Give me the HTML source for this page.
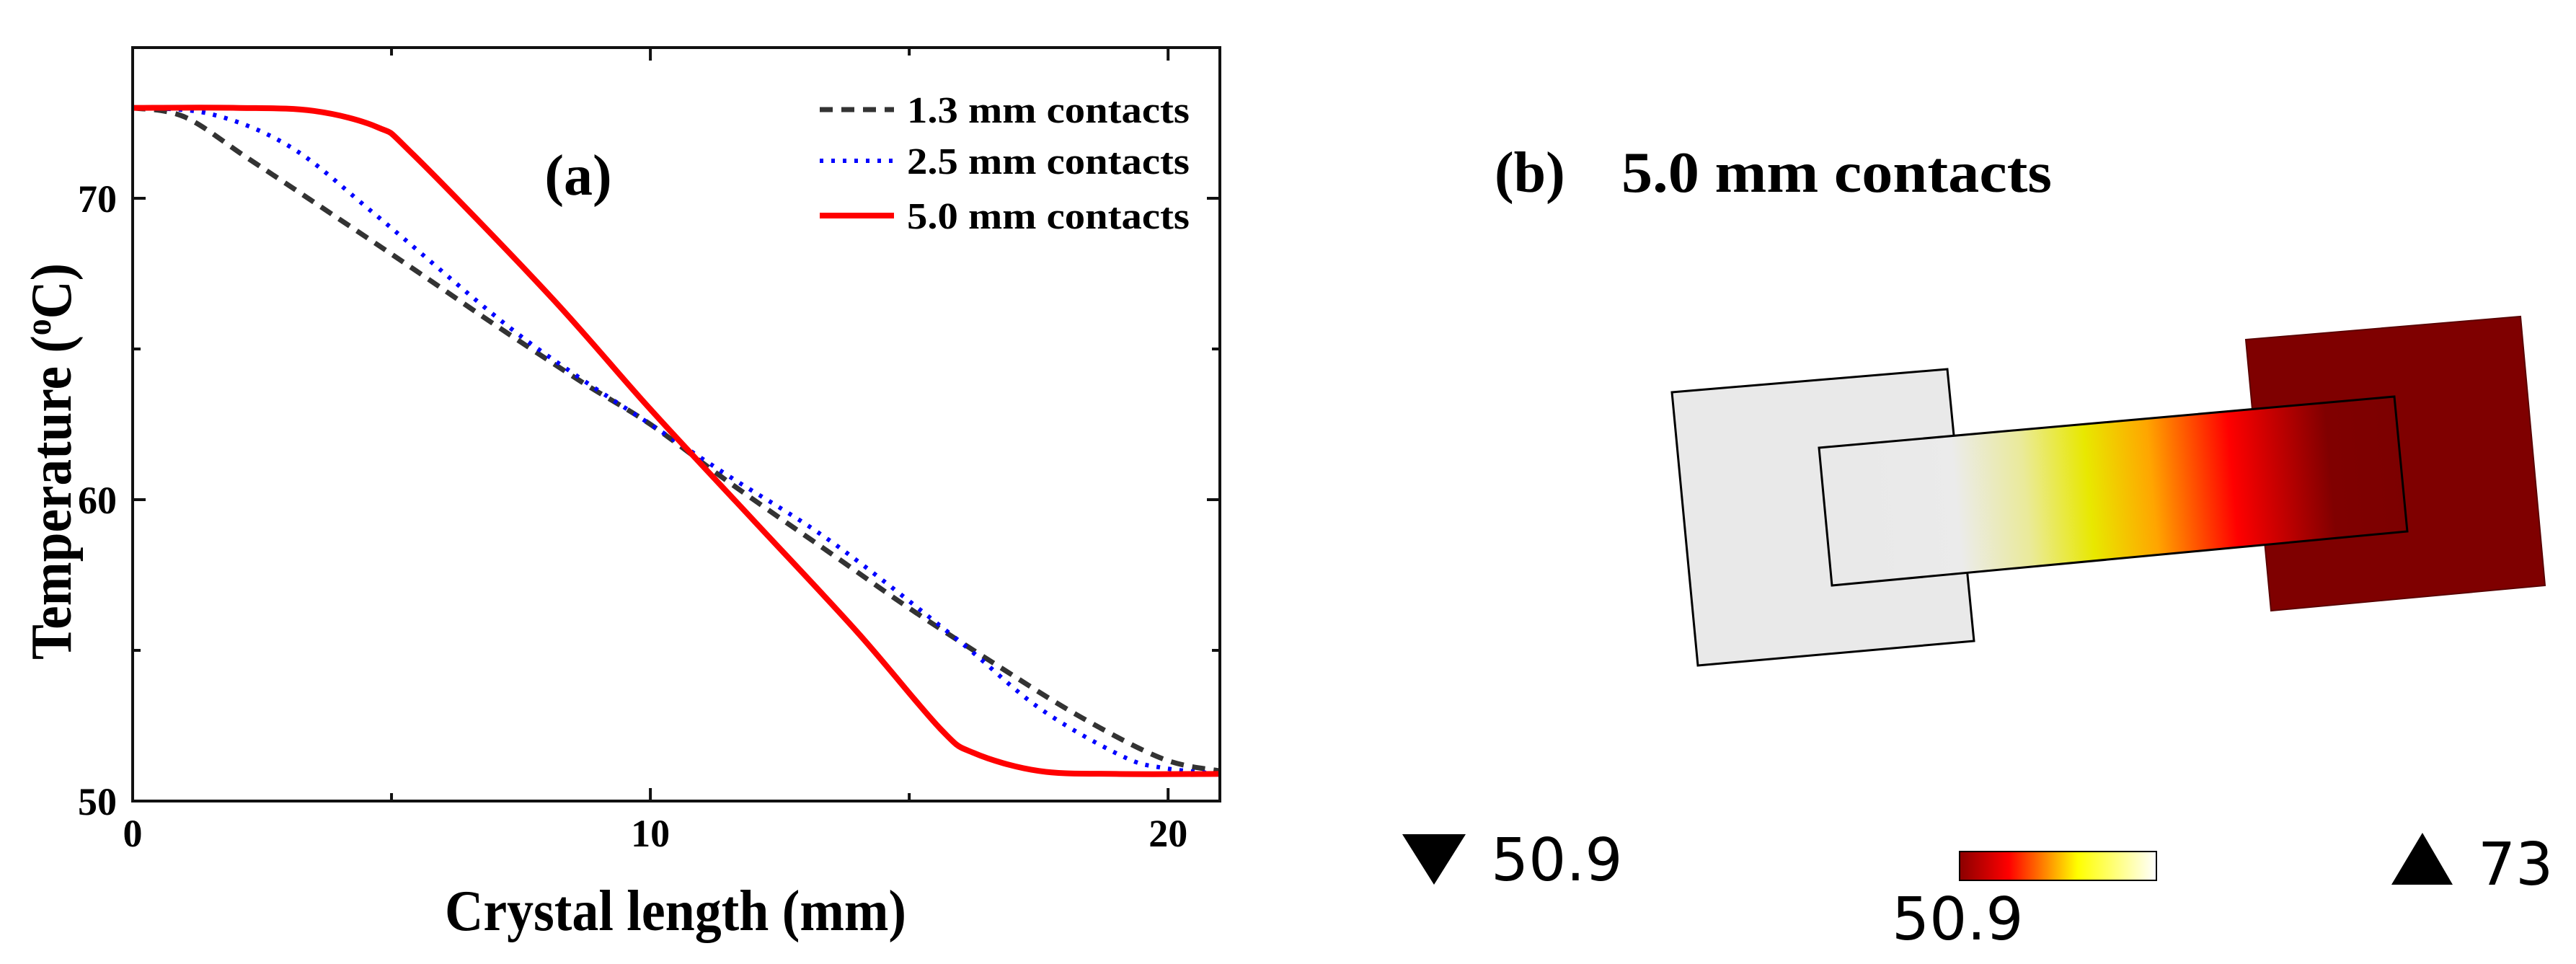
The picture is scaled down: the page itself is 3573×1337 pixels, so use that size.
<!DOCTYPE html>
<html><head><meta charset="utf-8"><style>
html,body{margin:0;padding:0;background:#fff;}
svg{display:block;}
</style></head><body>
<svg id="fig" width="3573" height="1337" viewBox="0 0 3573 1337" xmlns="http://www.w3.org/2000/svg">
<defs>
<linearGradient id="barGrad" x1="2532" y1="0" x2="3330" y2="-70" gradientUnits="userSpaceOnUse">
<stop offset="0" stop-color="#e9e9e9"/><stop offset="0.15" stop-color="#ebebeb"/><stop offset="0.27" stop-color="#eaea9a"/><stop offset="0.38" stop-color="#e8e800"/><stop offset="0.49" stop-color="#ffa500"/><stop offset="0.63" stop-color="#ff0000"/><stop offset="0.80" stop-color="#800000"/><stop offset="1" stop-color="#7a0000"/>
</linearGradient>
<linearGradient id="cbGrad" x1="0" y1="0" x2="1" y2="0">
<stop offset="0" stop-color="#8b0000"/><stop offset="0.25" stop-color="#ff0000"/><stop offset="0.6" stop-color="#ffff00"/><stop offset="1" stop-color="#ffffff"/>
</linearGradient>
</defs>
<g id="panelA"></g>
<g>
<text x="2073" y="266" font-family="Liberation Serif, serif" font-weight="bold" font-size="80">(b)</text>
<text x="2249" y="266" font-family="Liberation Serif, serif" font-weight="bold" font-size="80" textLength="597" lengthAdjust="spacingAndGlyphs">5.0 mm contacts</text>
<polygon points="2319,544 2701,512 2738,889 2355,923" fill="#e9e9e9" stroke="#000" stroke-width="3"/>
<polygon points="3115,471 3496,439 3530,812 3150,847" fill="#7f0000" stroke="#5a0000" stroke-width="2"/>
<polygon points="2523,621 3321,550 3339,737 2541,812" fill="url(#barGrad)" stroke="#000" stroke-width="3"/>
<polygon points="1945,1157 2033,1157 1989,1227" fill="#000"/>
<text x="2068" y="1221" font-family="DejaVu Sans, sans-serif" font-size="82">50.9</text>
<rect x="2718" y="1181" width="273" height="40" fill="url(#cbGrad)" stroke="#000" stroke-width="2"/>
<text x="2624" y="1303" font-family="DejaVu Sans, sans-serif" font-size="82">50.9</text>
<polygon points="3317,1227 3402,1227 3360,1155" fill="#000"/>
<text x="3437" y="1227" font-family="DejaVu Sans, sans-serif" font-size="82">73</text>
</g>
</svg>
<script>
const xTicks = [0, 10, 20];
const yTicks = [50, 60, 70];
const seriesNames = ["1.3 mm contacts", "2.5 mm contacts", "5.0 mm contacts"];
const blackX = [0, 1, 2.25, 4, 5.47, 7, 8.68, 10, 11.5, 13.5, 15, 16.7, 18.3, 19.9, 21];
const blackT = [73, 72.7, 71.3, 69.3, 67.6, 65.8, 63.9, 62.5, 60.6, 58.2, 56.4, 54.5, 52.8, 51.4, 51.0];
const blueX = [0, 1.5, 3.05, 4.66, 7.07, 8.5, 10, 11.5, 13.5, 15.9, 17.5, 19.1, 19.9, 21];
const blueT = [73, 72.8, 71.7, 69.5, 66.0, 64.2, 62.5, 60.8, 58.6, 55.4, 53.1, 51.5, 51.1, 50.9];
const redX = [0, 2, 3.5, 4.74, 5.42, 8.04, 10, 12, 14, 15.6, 16.24, 17.5, 19, 21];
const redT = [73.0, 73.0, 72.9, 72.35, 71.45, 66.8, 63.0, 59.3, 55.6, 52.4, 51.6, 51.0, 50.9, 50.9];

const L = 184, R = 1692, T = 66, B = 1111;
const xMin = 0, xMax = 21, yMin = 50, yMax = 75;
const sx = v => L + (v - xMin) / (xMax - xMin) * (R - L);
const sy = v => B - (v - yMin) / (yMax - yMin) * (B - T);
const NS = "http://www.w3.org/2000/svg";
const g = document.getElementById('panelA');
function mk(tag, attrs, parent) {
  const e = document.createElementNS(NS, tag);
  for (const k in attrs) e.setAttribute(k, attrs[k]);
  (parent || g).appendChild(e);
  return e;
}
function series(xs, ts, color, dash, w, name) {
  const P = xs.map((x, i) => [sx(x), sy(ts[i])]);
  let d = 'M' + P[0][0].toFixed(1) + ',' + P[0][1].toFixed(1);
  for (let i = 0; i < P.length - 1; i++) {
    const p0 = P[Math.max(0, i - 1)], p1 = P[i], p2 = P[i + 1], p3 = P[Math.min(P.length - 1, i + 2)];
    const c1x = p1[0] + (p2[0] - p0[0]) / 6, c1y = p1[1] + (p2[1] - p0[1]) / 6;
    const c2x = p2[0] - (p3[0] - p1[0]) / 6, c2y = p2[1] - (p3[1] - p1[1]) / 6;
    d += 'C' + c1x.toFixed(1) + ',' + c1y.toFixed(1) + ' ' + c2x.toFixed(1) + ',' + c2y.toFixed(1) + ' ' + p2[0].toFixed(1) + ',' + p2[1].toFixed(1);
  }
  const p = mk('path', {d: d, fill: 'none', stroke: color, 'stroke-width': w, 'stroke-dasharray': dash, 'stroke-linejoin': 'round'});
  
  
}
series(blackX, blackT, '#333', '18,12', 7, 'series-1-3mm');
series(blueX, blueT, '#0000ff', '5,11', 6, 'series-2-5mm');
series(redX, redT, '#ff0000', 'none', 8, 'series-5-0mm');

const frame = mk('rect', {x: L, y: T, width: R - L, height: B - T, fill: 'none', stroke: '#111', 'stroke-width': 4});


for (let v = 0; v <= 20; v += 5) {
  const len = v % 10 === 0 ? 18 : 11;
  mk('line', {x1: sx(v), x2: sx(v), y1: B, y2: B - len, stroke: '#111', 'stroke-width': 4});
  mk('line', {x1: sx(v), x2: sx(v), y1: T, y2: T + len, stroke: '#111', 'stroke-width': 4});
}
for (let v = 50; v <= 75; v += 5) {
  const len = v % 10 === 0 ? 18 : 11;
  mk('line', {x1: L, x2: L + len, y1: sy(v), y2: sy(v), stroke: '#111', 'stroke-width': 4});
  mk('line', {x1: R, x2: R - len, y1: sy(v), y2: sy(v), stroke: '#111', 'stroke-width': 4});
}
const tf = {'font-family': 'Liberation Serif, serif', 'font-weight': 'bold', 'font-size': 54};
xTicks.forEach(v => {
  const t = mk('text', Object.assign({x: sx(v), y: 1174, 'text-anchor': 'middle'}, tf));
  t.textContent = v;
  
  
});
yTicks.forEach(v => {
  const t = mk('text', Object.assign({x: 162, y: sy(v) + 19, 'text-anchor': 'end'}, tf));
  t.textContent = v;
  
  
});
const xt = mk('text', {x: 937, y: 1290, 'text-anchor': 'middle', 'font-family': 'Liberation Serif, serif', 'font-weight': 'bold', 'font-size': 80, textLength: 640, lengthAdjust: 'spacingAndGlyphs'});
xt.textContent = 'Crystal length (mm)';


const yt = mk('text', {x: 0, y: 0, 'text-anchor': 'middle', transform: 'translate(98,640) rotate(-90)', 'font-family': 'Liberation Serif, serif', 'font-weight': 'bold', 'font-size': 80, textLength: 550, lengthAdjust: 'spacingAndGlyphs'});
yt.innerHTML = 'Temperature (<tspan dy="-28" font-size="50">o</tspan><tspan dy="28">C)</tspan>';


const pa = mk('text', {x: 802, y: 270, 'text-anchor': 'middle', 'font-family': 'Liberation Serif, serif', 'font-weight': 'bold', 'font-size': 80});
pa.textContent = '(a)';


const legY = [152, 223, 299];
const legStyle = [['#333', '18,12', 7], ['#0000ff', '5,11', 6], ['#ff0000', 'none', 8]];
seriesNames.forEach((n, i) => {
  const ln = mk('line', {x1: 1137, x2: 1240, y1: legY[i], y2: legY[i], stroke: legStyle[i][0], 'stroke-dasharray': legStyle[i][1], 'stroke-width': legStyle[i][2]});
  
  
  const t = mk('text', {x: 1258, y: legY[i] + 18, 'font-family': 'Liberation Serif, serif', 'font-weight': 'bold', 'font-size': 52, textLength: 392, lengthAdjust: 'spacingAndGlyphs'});
  t.textContent = n;
  
  
});
</script>
</body></html>
